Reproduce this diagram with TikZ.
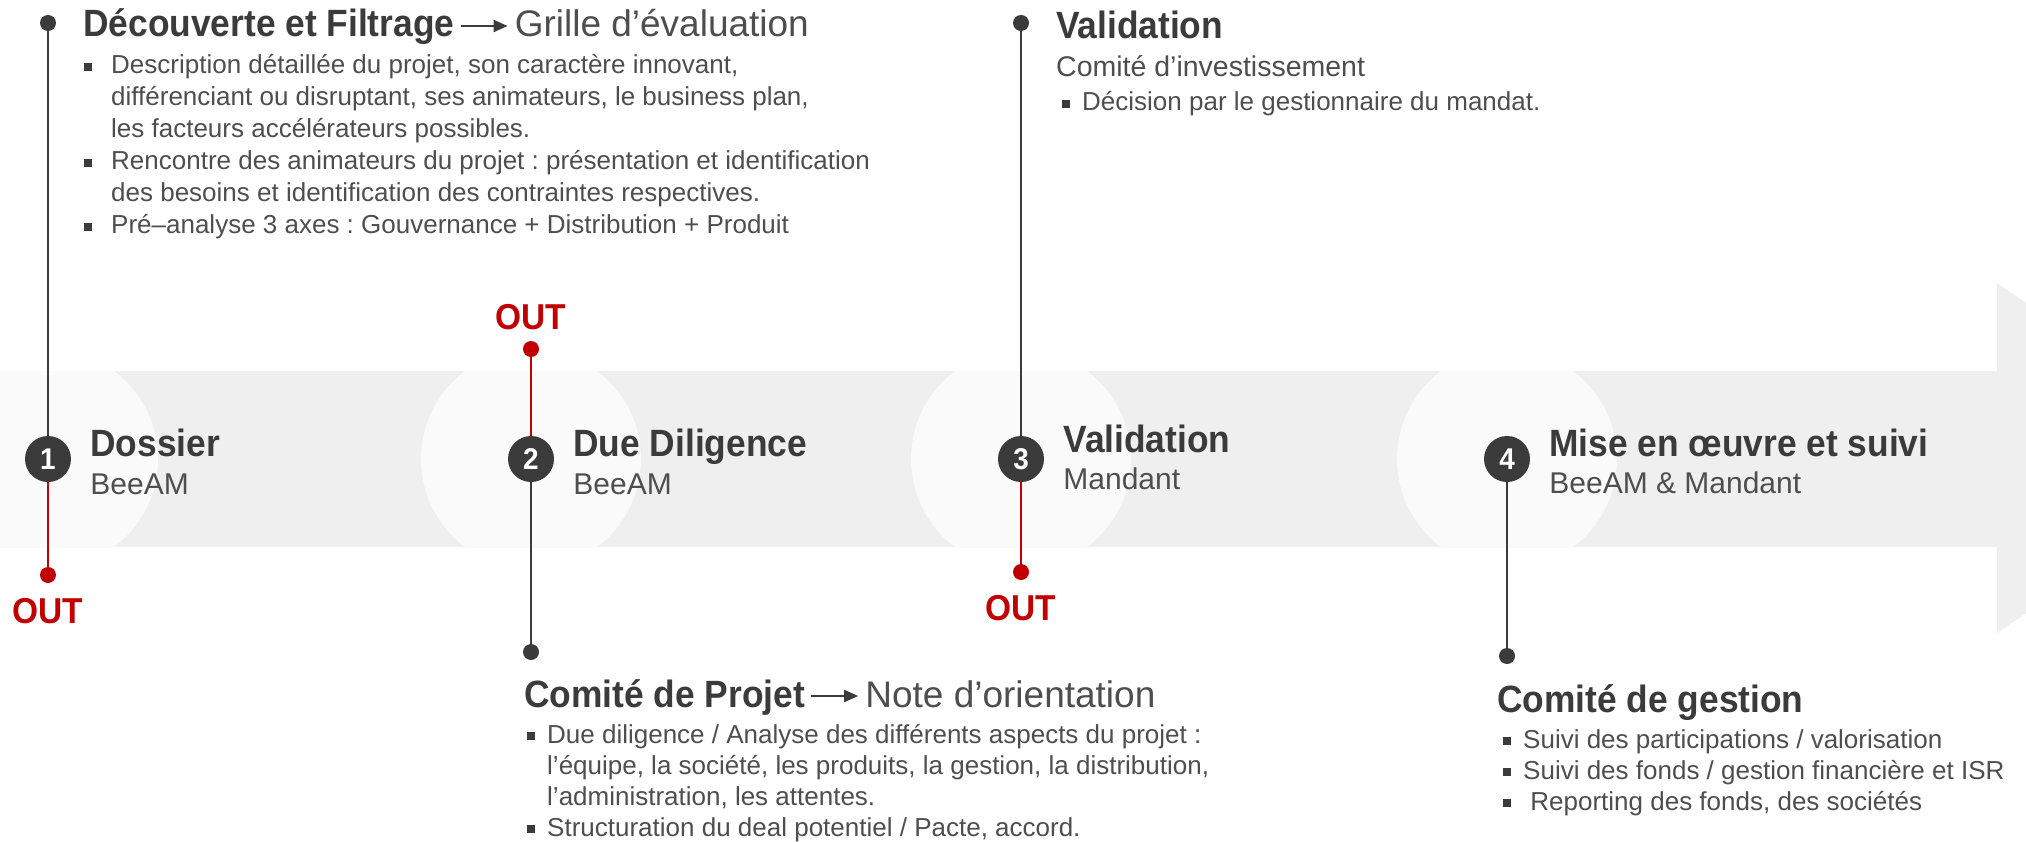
\documentclass[tikz,border=0pt]{standalone}
\usepackage{fontspec}
\setmainfont{Liberation Sans}[BoldFeatures={FakeStretch=0.93}]
\usetikzlibrary{arrows.meta,positioning}

\definecolor{ink}{HTML}{3B3B3B}
\definecolor{txt}{HTML}{4E4E4E}
\definecolor{outred}{HTML}{C00000}
\definecolor{band}{HTML}{EFEFEF}
\definecolor{halo}{HTML}{FAFAFA}

\frenchspacing
\newcommand{\bul}{\llap{\textcolor{ink}{\raisebox{3pt}{\rule{8pt}{8pt}}}\hspace{12pt}}}
\newcommand{\bulw}{\llap{\textcolor{ink}{\raisebox{3pt}{\rule{8pt}{8pt}}}\hspace{19pt}}}

\tikzset{
  dot/.style={circle,fill=ink,inner sep=0pt,minimum size=16pt},
  reddot/.style={dot,fill=outred},
  stepnum/.style={circle,fill=ink,text=white,inner sep=0pt,minimum size=46pt,font=\bfseries\fontsize{30}{30}\selectfont},
  darkline/.style={draw=ink,line width=2.5pt},
  redline/.style={draw=outred,line width=2.5pt},
  outtag/.style={text=outred,inner sep=0pt,font=\bfseries\fontsize{36}{36}\selectfont},
  headtxt/.style={anchor=base west,inner sep=0pt,text=ink,font=\bfseries\fontsize{38}{44}\selectfont},
  leadtxt/.style={anchor=base west,inner sep=0pt,text=txt,font=\fontsize{37}{44}\selectfont},
  subtxt/.style={anchor=base west,inner sep=0pt,text=txt,font=\fontsize{30}{36}\selectfont},
  bodytxt/.style={anchor=base west,inner sep=0pt,text=txt,font=\fontsize{26}{31}\selectfont},
  flow/.style={-{Triangle[length=14pt,width=12pt]},draw=ink,line width=2pt}
}

\begin{document}
\begin{tikzpicture}[x=1pt,y=-1pt]

\useasboundingbox (0,0) rectangle (2026,842);

% band and arrow head
\begin{scope}
\clip (0,0) rectangle (2026,842);
\fill[band] (0,371) rectangle (1997,547);
\fill[band] (1997,283)--(2255,459)--(1997,633)--cycle;
\begin{scope}
\clip (0,371) rectangle (1997,547);
\foreach \cx in {48,531,1021,1507}
  \fill[halo] (\cx,459) circle[radius=110];
\end{scope}
\end{scope}

% steps
\node[stepnum] (c1) at (48,459) {1};
\node[stepnum] (c2) at (531,459) {2};
\node[stepnum] (c3) at (1021,459) {3};
\node[stepnum] (c4) at (1507,459) {4};

\node[dot] (d1) at (48,23) {};
\node[reddot] (o1) at (48,575) {};
\node[reddot] (o2) at (531,349) {};
\node[dot] (d2) at (531,652) {};
\node[dot] (d3) at (1021,23) {};
\node[reddot] (o3) at (1021,572) {};
\node[dot] (d4) at (1507,656) {};

\draw[darkline] (d1) -- (c1);
\draw[redline] (c1) -- (o1);
\draw[redline] (c2) -- (o2);
\draw[darkline] (c2) -- (d2);
\draw[darkline] (d3) -- (c3);
\draw[redline] (c3) -- (o3);
\draw[darkline] (c4) -- (d4);

\node[outtag, below=15pt of o1] (x1) {OUT};
\node[outtag, above=11pt of o2] (x2) {OUT};
\node[outtag, below=15pt of o3] (x3) {OUT};

\node[headtxt] (t1) at ([xshift=19pt,yshift=3pt]c1.east) {Dossier};
\node[subtxt] (s1) at ([yshift=-38pt]t1.base west) {BeeAM};
\node[headtxt] (t2) at ([xshift=19pt,yshift=3pt]c2.east) {Due Diligence};
\node[subtxt] (s2) at ([yshift=-38pt]t2.base west) {BeeAM};
\node[headtxt] (t3) at ([xshift=19pt,yshift=7pt]c3.east) {Validation};
\node[subtxt] (s3) at ([yshift=-37pt]t3.base west) {Mandant};
\node[headtxt] (t4) at ([xshift=19pt,yshift=3pt]c4.east) {Mise en œuvre et suivi};
\node[subtxt] (s4) at ([yshift=-37pt]t4.base west) {BeeAM \& Mandant};

% Decouverte et filtrage
\node[headtxt] (dfT) at (83,37) {Découverte et Filtrage};
\node[leadtxt, base right=60pt of dfT] (dfG) {Grille d’évaluation};
\draw[flow] ([xshift=6pt,yshift=11pt]dfT.base east) -- ([xshift=-7pt,yshift=11pt]dfG.base west);
\node[bodytxt, font=\fontsize{26}{32}\selectfont] (dfL) at (111,74) {\begin{tabular}[t]{@{}l@{}}
\bulw Description détaillée du projet, son caractère innovant,\\
différenciant ou disruptant, ses animateurs, le business plan,\\
les facteurs accélérateurs possibles.\\
\bulw Rencontre des animateurs du projet : présentation et identification\\
des besoins et identification des contraintes respectives.\\
\bulw Pré–analyse 3 axes : Gouvernance + Distribution + Produit
\end{tabular}};

% Validation
\node[headtxt] (vaT) at (1056,39) {Validation};
\node[subtxt, font=\fontsize{28.5}{34}\selectfont] (vaC) at (1056,77) {Comité d’investissement};
\node[bodytxt] (vaL) at (1082,111) {\bul Décision par le gestionnaire du mandat.};

% Comite de projet
\node[headtxt] (cpT) at (524,707) {Comité de Projet};
\node[leadtxt, base right=60pt of cpT] (cpN) {Note d’orientation};
\draw[flow] ([xshift=6pt,yshift=11pt]cpT.base east) -- ([xshift=-7pt,yshift=11pt]cpN.base west);
\node[bodytxt] (cpL) at (547,743) {\begin{tabular}[t]{@{}l@{}}
\bul Due diligence / Analyse des différents aspects du projet :\\
l’équipe, la société, les produits, la gestion, la distribution,\\
l’administration, les attentes.\\
\bul Structuration du deal potentiel / Pacte, accord.
\end{tabular}};

% Comite de gestion
\node[headtxt] (cgT) at (1497,712) {Comité de gestion};
\node[bodytxt] (cgL) at (1523,748) {\begin{tabular}[t]{@{}l@{}}
\bul Suivi des participations / valorisation\\
\bul Suivi des fonds / gestion financière et ISR\\
\bul\ Reporting des fonds, des sociétés
\end{tabular}};

\end{tikzpicture}
\end{document}
